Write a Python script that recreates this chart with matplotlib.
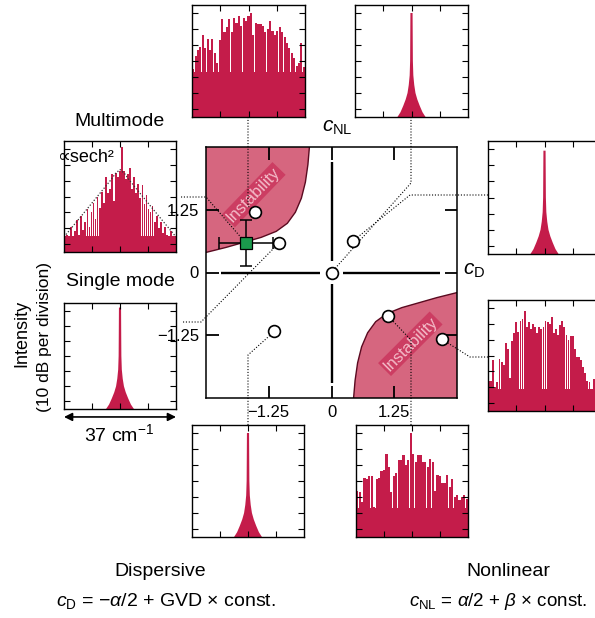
import numpy as np
import matplotlib
matplotlib.use('Agg')
import matplotlib.pyplot as plt

plt.rcParams['font.family'] = ['Liberation Sans', 'DejaVu Sans']
plt.rcParams['mathtext.fontset'] = 'custom'
plt.rcParams['mathtext.rm'] = 'Liberation Sans'
plt.rcParams['mathtext.it'] = 'Liberation Sans:italic'
plt.rcParams['mathtext.bf'] = 'Liberation Sans:bold'

W, H = 595, 618
fig = plt.figure(figsize=(W / 100, H / 100), dpi=100)

# ---------------- data ----------------
tick_vals = [-1.25, 0, 1.25]
tick_labels = ['\u22121.25', '0', '1.25']

circ_cd = [-1.52, -1.05, 0.43, 0.0, -1.14, 1.12, 2.20]
circ_cnl = [1.20, 0.585, 0.63, 0.0, -1.175, -0.86, -1.33]
sq_cd, sq_cnl = -1.71, 0.59
sq_xerr, sq_yerr = 0.54, 0.46

ul_cd = [-0.44, -0.47, -0.52, -0.60, -0.72, -0.88, -1.10, -1.40, -1.75, -2.10, -2.50]
ul_cnl = [2.50, 2.15, 1.80, 1.48, 1.20, 0.98, 0.82, 0.70, 0.60, 0.50, 0.40]
lr_cd = [0.44, 0.47, 0.52, 0.60, 0.72, 0.88, 1.10, 1.40, 1.75, 2.10, 2.50]
lr_cnl = [-2.50, -2.15, -1.80, -1.48, -1.20, -0.98, -0.82, -0.70, -0.60, -0.50, -0.40]

# multimode spectra: comb line peak levels (dB), evenly across 37 cm^-1
tl_db = [-40, -32, -28, -26, -19, -27, -21, -28, -21, -30, -36, -22, -9, -17, -14, -9,
         -17, -8, -11, -7, -13, -8, -10, -7, -5, -19, -11, -12, -12, -13, -17, -15,
         -10, -16, -19, -16, -14, -17, -20, -24, -27, -30, -33, -38, -36, -24, -39]
br_db = [-41, -42, -48, -33, -34, -32, -32, -51, -34, -33, -29, -28, -18, -26, -42, -32,
         -30, -22, -22, -19, -25, -22, -5, -18, -23, -19, -19, -23, -23, -26, -21, -23,
         -41, -31, -32, -36, -36, -31, -39, -34, -45, -44, -47, -45, -44, -46]
rb_db = [-51, -51, -38, -55, -52, -37, -39, -41, -27, -31, -49, -26, -21, -14, -20, -13,
         -12, -7, -17, -14, -18, -15, -17, -21, -17, -18, -17, -13, -14, -15, -11, -21,
         -18, -22, -16, -13, -17, -22, -25, -23, -23, -31, -36, -36, -38, -42, -46, -51,
         -52, -59, -50, -55, -58, -60]
ml_db = [-61, -59, -63, -54, -61, -57, -50, -59, -47, -56, -51, -43, -54, -45, -39, -49,
         -35, -42, -32, -39, -23, -33, -30, -21, -38, -20, -23, -19, -4, -19, -24, -21,
         -17, -30, -23, -33, -27, -36, -28, -40, -34, -43, -45, -41, -51, -47, -55, -51,
         -58, -54, -59, -62, -57, -61, -60]
mm_floor = {'tl': -42, 'br': -52, 'rb': -56, 'ml': -60}

# sech^2 envelope (cm^-1, dB)
env_x = [-18.5, -12, -6, -3, -1.5, 0, 1.5, 3, 6, 12, 18.5]
env_db = [-60.5, -45.5, -31.5, -24.5, -20.5, -18, -20.5, -24.5, -31.5, -45.5, -60.5]

# single-mode line profile (half width in cm^-1 vs level in dB)
sm_off = [4.6, 3.6, 2.7, 1.9, 1.3, 0.9, 0.6, 0.45, 0.40, 0.35]
sm_db = [-70, -67, -63, -59, -55, -50, -44, -35, -20, -5]

RED = '#c41c4a'
FILL = '#d6667f'


def fpx(x0, y0, x1, y1):
    return [x0 / W, 1 - y1 / H, (x1 - x0) / W, (y1 - y0) / H]


# ---------------- main axes ----------------
ax = fig.add_axes(fpx(206, 147, 457, 398))
ax.set_zorder(10)
ax.set_xlim(-2.5, 2.5)
ax.set_ylim(-2.5, 2.5)
ax.set_xticks(tick_vals)
ax.set_xticklabels(tick_labels)
ax.set_yticks(tick_vals)
ax.set_yticklabels(tick_labels)
ax.tick_params(direction='in', length=9, width=1.3, top=True, right=True,
               labelsize=12, pad=5)
for s in ax.spines.values():
    s.set_linewidth(1.1)

ax.fill(list(ul_cd) + [-2.5], list(ul_cnl) + [2.5], color=FILL, lw=0, zorder=1)
ax.fill(list(lr_cd) + [2.5], list(lr_cnl) + [-2.5], color=FILL, lw=0, zorder=1)
ax.plot(ul_cd, ul_cnl, color='#5a0a20', lw=1.0, zorder=1.5)
ax.plot(lr_cd, lr_cnl, color='#5a0a20', lw=1.0, zorder=1.5)

for (x, y, r) in [(-1.55, 1.55, 46), (1.57, -1.42, 45)]:
    ax.text(x, y, 'Instability', rotation=r, ha='center', va='center',
            fontsize=12, color='#f4bcc9', zorder=1.8,
            bbox=dict(boxstyle='square,pad=0.1', fc='#cc3d62', ec='none'))

# cross lines
ax.plot([-2.21, -0.22], [0, 0], color='k', lw=1.7, zorder=2, solid_capstyle='butt')
ax.plot([0.22, 2.17], [0, 0], color='k', lw=1.7, zorder=2, solid_capstyle='butt')
ax.plot([0, 0], [0.22, 2.2], color='k', lw=1.7, zorder=2, solid_capstyle='butt')
ax.plot([0, 0], [-0.22, -2.2], color='k', lw=1.7, zorder=2, solid_capstyle='butt')


def to_fig(px_pts):
    return [(x / W, 1 - y / H) for x, y in px_pts]


fig.canvas.draw()
inv = fig.transFigure.inverted()


def d2f(x, y):
    return tuple(inv.transform(ax.transData.transform((x, y))))


connectors = [
    ((circ_cd[0], circ_cnl[0]), [(248, 117), (248, 206)]),
    ((sq_cd, sq_cnl), [(181, 197), (206, 197)]),
    ((circ_cd[1], circ_cnl[1]), [(183, 322), (201, 322)]),
    ((circ_cd[3], circ_cnl[3]), [(411, 117), (411, 183)]),
    ((circ_cd[2], circ_cnl[2]), [(488, 195), (410, 195)]),
    ((circ_cd[4], circ_cnl[4]), [(248, 425), (248, 355)]),
    ((circ_cd[5], circ_cnl[5]), [(411, 425), (411, 340)]),
    ((circ_cd[6], circ_cnl[6]), [(488, 357), (470, 357)]),
]
for (pt, way) in connectors:
    pts = to_fig(way) + [d2f(*pt)]
    xs = [p[0] for p in pts]
    ys = [p[1] for p in pts]
    ax.plot(xs, ys, transform=fig.transFigure, clip_on=False, color='k',
            lw=0.8, ls=(0, (1, 1.6)), zorder=2.5)

ax.errorbar([sq_cd], [sq_cnl], xerr=[sq_xerr], yerr=[sq_yerr], fmt='none',
            ecolor='k', elinewidth=1.1, capsize=4.2, capthick=1.1, zorder=3)
ax.plot(circ_cd, circ_cnl, 'o', ms=8.5, mfc='white', mec='k', mew=1.2,
        ls='none', zorder=4)
ax.plot([sq_cd], [sq_cnl], 's', ms=8.5, mfc='#1a9a4c', mec='k', mew=0.9, zorder=5)

fig.text(337 / W, 1 - 127 / H, r'$c_{\mathrm{NL}}$', fontsize=15, ha='center', va='center')
fig.text(474 / W, 1 - 271 / H, r'$c_{\mathrm{D}}$', fontsize=15, ha='center', va='center')


# ---------------- spectra panels ----------------
def panel(box):
    a = fig.add_axes(fpx(*box))
    a.set_xlim(-18.5, 18.5)
    a.set_ylim(-70, 0)
    a.set_xticks([-9.25, 0, 9.25])
    a.set_yticks(np.arange(-65, 0, 10))
    a.tick_params(direction='in', length=4, width=0.8, top=True, right=True,
                  labelbottom=False, labelleft=False)
    for s in a.spines.values():
        s.set_linewidth(1.0)
    return a


def multimode(a, vals, floor):
    n = len(vals)
    dx = 37.0 / n
    xs = -18.5 + dx * (np.arange(n) + 0.5)
    a.fill_between([-18.5, 18.5], -70, floor, color=RED, lw=0)
    a.bar(xs, np.array(vals) + 70, bottom=-70, width=dx * 0.88, color=RED, lw=0)


def single(a, peak=-5):
    db = list(sm_db[:-1]) + [peak]
    xs = [-o for o in sm_off] + list(sm_off[::-1])
    ys = db + db[::-1]
    a.fill(xs, ys, color=RED, lw=0)


a_tl = panel((192, 5, 305, 117)); multimode(a_tl, tl_db, mm_floor['tl'])
a_tr = panel((355, 5, 468, 117)); single(a_tr, -5)
a_bl = panel((192, 425, 304, 537)); single(a_bl, -5)
a_br = panel((356, 425, 468, 537)); multimode(a_br, br_db, mm_floor['br'])
a_ml = panel((64, 141, 176, 252)); multimode(a_ml, ml_db, mm_floor['ml'])
a_ml.plot(env_x, env_db, color='#333333', lw=0.9, ls=(0, (1, 1.5)))
a_sl = panel((64, 303, 176, 409)); single(a_sl, -3)
a_rt = panel((488, 141, 601, 254)); single(a_rt, -6)
a_rb = panel((488, 300, 601, 411)); multimode(a_rb, rb_db, mm_floor['rb'])

a_sl.annotate('', xy=(1.0, -0.075), xytext=(0.0, -0.075), xycoords='axes fraction',
              arrowprops=dict(arrowstyle='<|-|>', color='k', lw=1.2,
                              shrinkA=0, shrinkB=0, mutation_scale=12))

# ---------------- texts ----------------
fig.text(120 / W, 1 - 122 / H, 'Multimode', fontsize=14, ha='center', va='center')
fig.text(57 / W, 1 - 158 / H, '\u221dsech\u00b2', fontsize=13, ha='left', va='center')
fig.text(120 / W, 1 - 282 / H, 'Single mode', fontsize=14, ha='center', va='center')
fig.text(119 / W, 1 - 434 / H, r'37 cm$^{\mathregular{-1}}$', fontsize=14, ha='center', va='center')
fig.text(22 / W, 1 - 333 / H, 'Intensity', fontsize=13, rotation=90, ha='center', va='center')
fig.text(45 / W, 1 - 337 / H, '(10 dB per division)', fontsize=12.5, rotation=90,
         ha='center', va='center')

fig.text(160 / W, 1 - 572 / H, 'Dispersive', fontsize=14, ha='center', va='center')
fig.text(166 / W, 1 - 601 / H,
         '$c_{\\mathrm{D}}$ = \u2212$\\alpha$/2 + GVD \u00d7 const.',
         fontsize=14, ha='center', va='center')
fig.text(508 / W, 1 - 572 / H, 'Nonlinear', fontsize=14, ha='center', va='center')
fig.text(498 / W, 1 - 601 / H,
         '$c_{\\mathrm{NL}}$ = $\\alpha$/2 + $\\beta$ \u00d7 const.',
         fontsize=13.5, ha='center', va='center')

fig.savefig('out.png', dpi=100)
